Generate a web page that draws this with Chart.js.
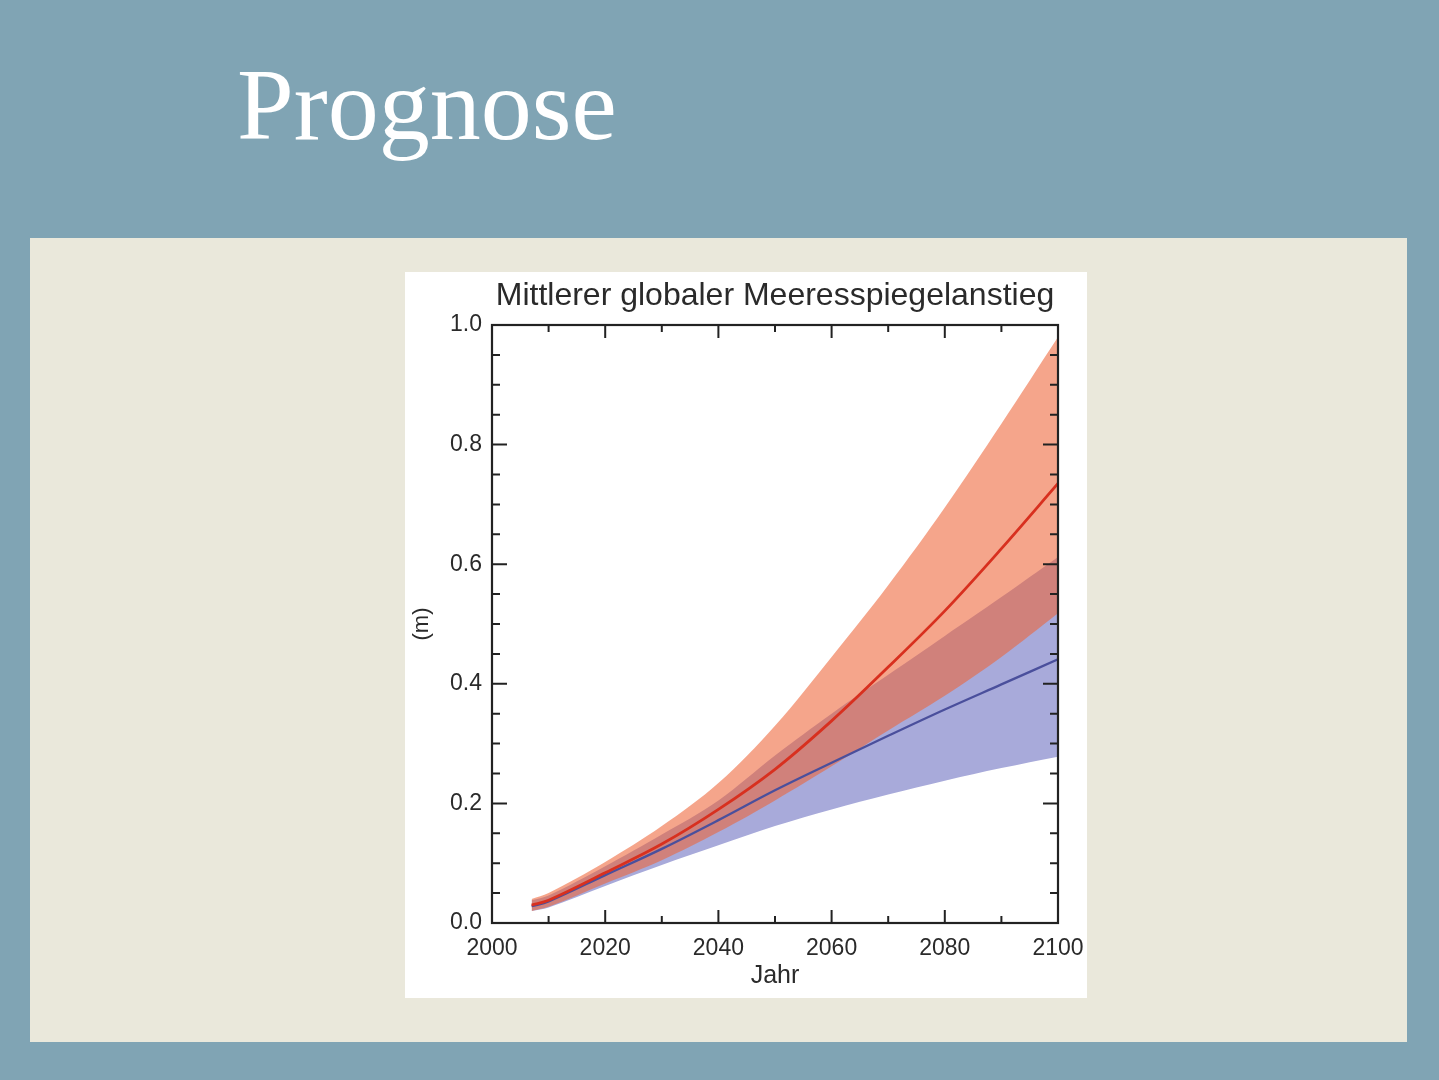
<!DOCTYPE html>
<html><head><meta charset="utf-8">
<script src="https://cdn.jsdelivr.net/npm/chart.js@4"></script>
<style>
html,body{margin:0;padding:0;width:1439px;height:1080px;overflow:hidden;background:#80a4b4;}
#title{position:absolute;left:237px;top:55px;font-family:'Liberation Serif',serif;font-size:102px;line-height:100px;color:#fff;margin:0;font-weight:normal;}
#panel{position:absolute;left:30px;top:238px;width:1377px;height:804px;background:#eae8db;}
#box{position:absolute;left:405px;top:272px;width:682px;height:726px;background:#fff;}
</style></head>
<body>
<div id="title">Prognose</div>
<div id="panel"></div>
<div id="box"><canvas id="c" width="682" height="726"></canvas></div>
<script>
const years = [2007, 2010, 2020, 2030, 2040, 2050, 2060, 2070, 2080, 2090, 2100];
const redMean = [0.03, 0.038, 0.084, 0.132, 0.19, 0.257, 0.338, 0.428, 0.522, 0.626, 0.735];
const redUpper = [0.04, 0.05, 0.102, 0.162, 0.234, 0.33, 0.445, 0.565, 0.695, 0.835, 0.98];
const redLower = [0.02, 0.027, 0.066, 0.105, 0.152, 0.205, 0.262, 0.322, 0.38, 0.445, 0.518];
const blueMean = [0.028, 0.036, 0.08, 0.124, 0.172, 0.222, 0.268, 0.313, 0.357, 0.399, 0.441];
const blueUpper = [0.038, 0.046, 0.095, 0.148, 0.205, 0.28, 0.35, 0.415, 0.48, 0.545, 0.612];
const blueLower = [0.02, 0.026, 0.062, 0.097, 0.13, 0.162, 0.19, 0.215, 0.238, 0.259, 0.278];
const xMajorTicks = [2000, 2020, 2040, 2060, 2080, 2100];
const xMinorTicks = [2010, 2030, 2050, 2070, 2090];
const yMajorTicks = [0.0, 0.2, 0.4, 0.6, 0.8, 1.0];
const yMinorTicks = [0.05, 0.1, 0.15, 0.25, 0.3, 0.35, 0.45, 0.5, 0.55, 0.65, 0.7, 0.75, 0.85, 0.9, 0.95];
const chartTitle = 'Mittlerer globaler Meeresspiegelanstieg';
const xTitle = 'Jahr';
const yTitle = '(m)';

const pts = arr => years.map((y, i) => ({x: y, y: arr[i]}));
const band = {pointRadius: 0, borderWidth: 0, borderColor: 'rgba(0,0,0,0)', tension: 0.35};
const FONT = "'Liberation Sans', Arial, sans-serif";

const tickPlugin = {
  id: 'inwardTicks',
  afterDraw(chart) {
    const {ctx, chartArea: a, scales: {x, y}} = chart;
    ctx.save();
    ctx.strokeStyle = '#222';
    ctx.lineWidth = 2;
    ctx.beginPath();
    const tick = (arr, len) => {
      arr.forEach(v => {
        const px = x.getPixelForValue(v);
        ctx.moveTo(px, a.bottom); ctx.lineTo(px, a.bottom - len);
        ctx.moveTo(px, a.top); ctx.lineTo(px, a.top + len);
      });
    };
    const ytick = (arr, len) => {
      arr.forEach(v => {
        const py = y.getPixelForValue(v);
        ctx.moveTo(a.left, py); ctx.lineTo(a.left + len, py);
        ctx.moveTo(a.right, py); ctx.lineTo(a.right - len, py);
      });
    };
    tick(xMajorTicks, 13); tick(xMinorTicks, 7);
    ytick(yMajorTicks, 15); ytick(yMinorTicks, 8);
    ctx.stroke();
    ctx.lineWidth = 2.2;
    ctx.strokeRect(a.left, a.top, a.right - a.left, a.bottom - a.top);
    ctx.restore();
  }
};

new Chart(document.getElementById('c'), {
  type: 'line',
  data: {
    datasets: [
      {label: 'redMean', data: pts(redMean), borderColor: '#d8301f', borderWidth: 2.8, pointRadius: 0, fill: false, tension: 0.35},
      {label: 'blueMean', data: pts(blueMean), borderColor: '#4a4f9c', borderWidth: 2.3, pointRadius: 0, fill: false, tension: 0.35},
      Object.assign({label: 'redUpper', data: pts(redUpper), fill: 3, backgroundColor: 'rgba(238,100,55,0.58)'}, band),
      Object.assign({label: 'redLower', data: pts(redLower), fill: false}, band),
      Object.assign({label: 'blueUpper', data: pts(blueUpper), fill: 5, backgroundColor: 'rgb(168,170,218)'}, band),
      Object.assign({label: 'blueLower', data: pts(blueLower), fill: false}, band)
    ]
  },
  options: {
    responsive: false,
    animation: false,
    layout: {padding: {left: 0, right: 29, top: 0, bottom: 0}},
    plugins: {
      legend: {display: false},
      tooltip: {enabled: false},
      title: {display: true, fullSize: false, text: chartTitle, color: '#2a2a2a',
        font: {family: FONT, size: 32, weight: 'normal', lineHeight: 1.2},
        padding: {top: 5, bottom: 9.6}}
    },
    scales: {
      x: {
        type: 'linear', min: 2000, max: 2100,
        afterBuildTicks: s => { s.ticks = xMajorTicks.map(v => ({value: v})); },
        afterFit: s => { s.height = 75; s.paddingLeft = 0; s.paddingRight = 0; },
        grid: {display: false, drawTicks: false},
        border: {display: false},
        ticks: {color: '#2a2a2a', padding: 12, maxRotation: 0, autoSkip: false,
          font: {family: FONT, size: 23},
          callback: v => String(v)},
        title: {display: true, text: xTitle, color: '#2a2a2a',
          font: {family: FONT, size: 25}, padding: {top: 0, bottom: 7}}
      },
      y: {
        type: 'linear', min: 0, max: 1,
        afterBuildTicks: s => { s.ticks = yMajorTicks.map(v => ({value: v})); },
        afterFit: s => { s.width = 87; s.paddingTop = 0; s.paddingBottom = 0; },
        grid: {display: false, drawTicks: false},
        border: {display: false},
        ticks: {color: '#2a2a2a', padding: 10, autoSkip: false,
          font: {family: FONT, size: 23},
          callback: v => v.toFixed(1)},
        title: {display: true, text: yTitle, color: '#2a2a2a',
          font: {family: FONT, size: 22}, padding: {top: 4, bottom: 0}}
      }
    }
  },
  plugins: [tickPlugin]
});
</script>
</body></html>
